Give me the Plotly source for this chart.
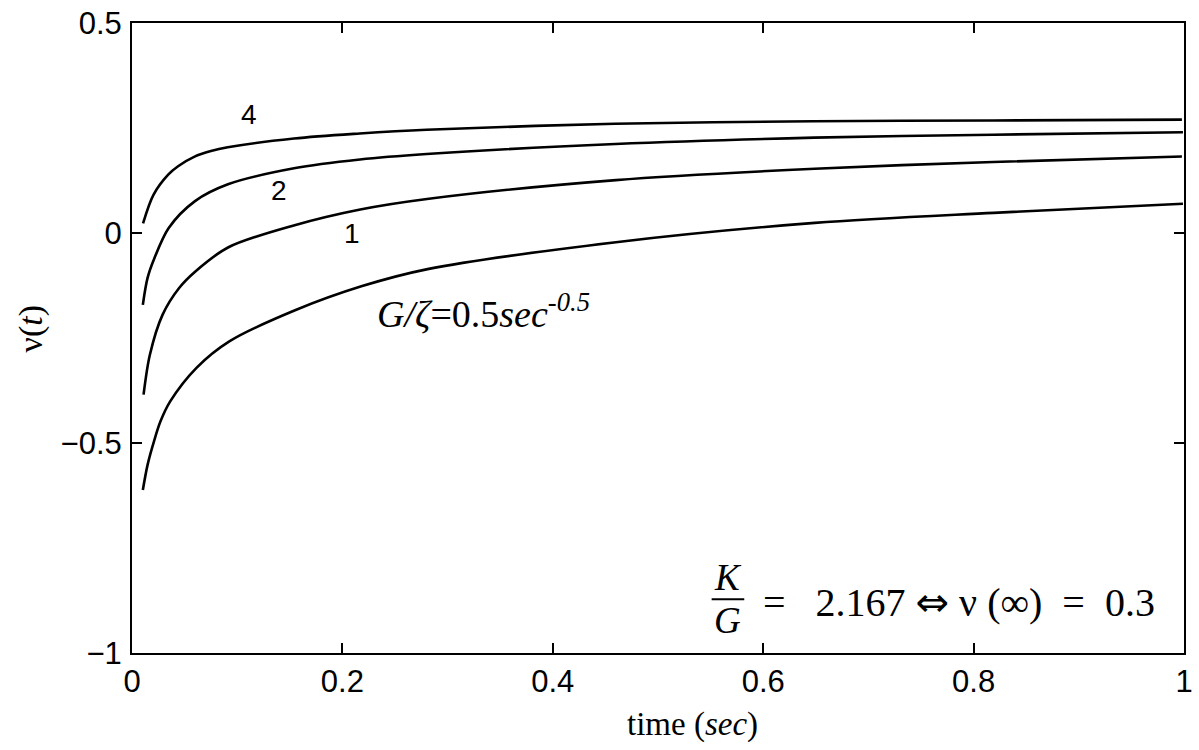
import plotly.graph_objects as go

# ---- data ----
t_a = [0.0103, 0.0148, 0.0209, 0.027, 0.0363, 0.0613, 0.0925, 0.155, 0.218, 0.281, 0.46, 0.649, 0.819, 0.999]
v_a = [-0.612, -0.552, -0.496, -0.449, -0.401, -0.321, -0.258, -0.184, -0.127, -0.086, -0.022, 0.024, 0.048, 0.0695]

t_1 = [0.011, 0.017, 0.029, 0.0448, 0.0605, 0.0917, 0.1546, 0.217, 0.2804, 0.46, 0.649, 0.8185, 0.998]
v_1 = [-0.385, -0.29, -0.195, -0.131, -0.091, -0.034, 0.0186, 0.056, 0.081, 0.126, 0.153, 0.169, 0.182]

t_2 = [0.0103, 0.0148, 0.021, 0.0349, 0.0599, 0.0912, 0.154, 0.2167, 0.28, 0.4595, 0.6485, 0.8185, 0.999]
v_2 = [-0.171, -0.107, -0.062, 0.012, 0.076, 0.116, 0.154, 0.175, 0.188, 0.212, 0.227, 0.234, 0.240]

t_4 = [0.0105, 0.0204, 0.0344, 0.0438, 0.0595, 0.075, 0.091, 0.154, 0.2165, 0.28, 0.459, 0.648, 0.8185, 0.998]
v_4 = [0.023, 0.091, 0.139, 0.159, 0.182, 0.195, 0.204, 0.225, 0.237, 0.246, 0.260, 0.266, 0.268, 0.270]

x_ticks = [0, 0.2, 0.4, 0.6, 0.8, 1]
y_ticks = [-1, -0.5, 0, 0.5]
y_ticktext = ["\u22121", "\u22120.5", "0", "0.5"]

curves = [(t_a, v_a), (t_1, v_1), (t_2, v_2), (t_4, v_4)]

SERIF = "Liberation Serif, Times New Roman, serif"
SANS = "Liberation Sans, Arial, sans-serif"

fig = go.Figure()
for tt, vv in curves:
    fig.add_trace(go.Scatter(x=tt, y=vv, mode="lines",
                             line=dict(color="black", width=2.6, shape="spline", smoothing=0.9),
                             showlegend=False, hoverinfo="skip"))

axis_common = dict(showline=True, linecolor="black", linewidth=2, mirror="ticks",
                   ticks="inside", ticklen=10, tickwidth=2, tickcolor="black",
                   showgrid=False, zeroline=False, ticklabeloverflow="allow",
                   tickfont=dict(family=SANS, size=31, color="black"))

fig.update_xaxes(range=[0, 1], tickvals=x_ticks, ticklabelstandoff=0, **axis_common)
fig.update_yaxes(range=[-1, 0.5], tickvals=y_ticks, ticktext=y_ticktext, ticklabelstandoff=2, **axis_common)

ann = []
# curve labels
for txt, x, y in [("4", 0.111, 0.281), ("2", 0.140, 0.101), ("1", 0.209, 0.0)]:
    ann.append(dict(x=x, y=y, xref="x", yref="y", text=txt, showarrow=False,
                    font=dict(family=SANS, size=28, color="black"),
                    xanchor="center", yanchor="middle"))
# G/zeta label
ann.append(dict(x=0.231, y=-0.185, xref="x", yref="y",
                text="<i>G/\u03b6</i>=0.5<i>sec</i><sup><i>-0.5</i></sup>",
                showarrow=False, font=dict(family=SERIF, size=38, color="black"),
                xanchor="left", yanchor="middle"))
# fraction K / G
ann.append(dict(x=0.5664, y=-0.821, xref="x", yref="y", text="<i>K</i>", showarrow=False,
                font=dict(family=SERIF, size=37, color="black"), xanchor="center", yanchor="middle"))
ann.append(dict(x=0.5664, y=-0.923, xref="x", yref="y", text="<i>G</i>", showarrow=False,
                font=dict(family=SERIF, size=37, color="black"), xanchor="center", yanchor="middle"))
ann.append(dict(x=0.5976, y=-0.878, xref="x", yref="y",
                text=("=\u2002 2.167 <span style=\"font-family:DejaVu Sans\">\u21d4</span> "
                      "\u03bd (\u221e)\u2002=\u20020.3"),
                showarrow=False, font=dict(family=SERIF, size=40, color="black"),
                xanchor="left", yanchor="middle"))
# axis titles
ann.append(dict(x=0.5325, y=-0.114, xref="x", yref="paper", text="time (<i>sec</i>)",
                showarrow=False, font=dict(family=SERIF, size=33, color="black"),
                xanchor="center", yanchor="middle"))
ann.append(dict(x=-0.0961, y=0.515, xref="paper", yref="paper", text="\u03bd(<i>t</i>)",
                showarrow=False, textangle=-90, font=dict(family=SERIF, size=34, color="black"),
                xanchor="center", yanchor="middle"))

fig.update_layout(
    width=1199, height=750,
    margin=dict(l=132, r=6, t=22, b=97),
    paper_bgcolor="white", plot_bgcolor="white",
    annotations=ann,
    shapes=[dict(type="line", xref="x", yref="y", x0=0.551, x1=0.582, y0=-0.872, y1=-0.872,
                 line=dict(color="black", width=2))],
)

fig.write_html("out.html")
